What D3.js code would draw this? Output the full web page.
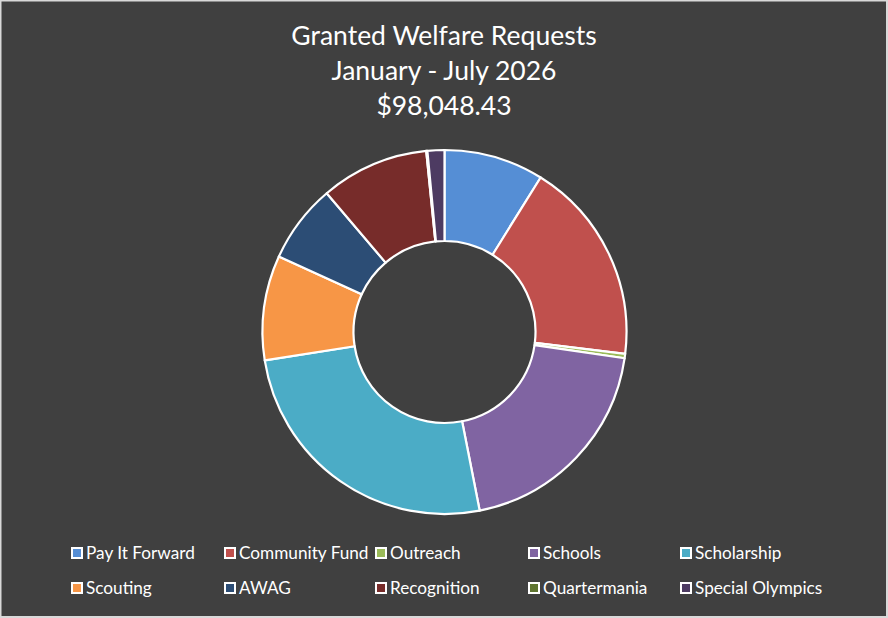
<!DOCTYPE html>
<html>
<head>
<meta charset="utf-8">
<script src="https://cdn.jsdelivr.net/npm/d3@7"></script>
<style>
  html, body { margin: 0; padding: 0; background: #404040; }
  svg { display: block; }
</style>
</head>
<body>
<svg id="chart" width="888" height="618"></svg>
<script>
const categories = ['Pay It Forward', 'Community Fund', 'Outreach', 'Schools', 'Scholarship',
  'Scouting', 'AWAG', 'Recognition', 'Quartermania', 'Special Olympics'];
const amounts = [8687, 17708, 380, 19217, 25100, 9118, 6863, 9413, 98, 1471];
const colors = ['#558ed5', '#c0504d', '#9bbb59', '#8064a2', '#4bacc6',
  '#f79646', '#2c4d75', '#772c2a', '#5f7530', '#4d3b62'];
const titleLines = ['Granted Welfare Requests', 'January - July 2026', '$98,048.43'];

const width = 888;
const height = 618;
const svg = d3.select('#chart');

// chart area frame
svg.append('rect')
  .attr('x', 0.5).attr('y', 0.5)
  .attr('width', width - 1.5).attr('height', height - 1.5)
  .attr('fill', '#404040')
  .attr('stroke', '#d9d9d9')
  .attr('stroke-width', 2);

// title
svg.append('g')
  .selectAll('text')
  .data(titleLines)
  .enter()
  .append('text')
  .attr('x', 444)
  .attr('y', (d, i) => 45 + i * 35)
  .attr('text-anchor', 'middle')
  .attr('fill', '#ffffff')
  .attr('font-family', 'Lato, "Open Sans", sans-serif')
  .attr('font-size', 26.5)
  .text((d) => d);

// donut
const data = categories.map((name, i) => ({ name, value: amounts[i], color: colors[i] }));
const pie = d3.pie().value((d) => d.value).sort(null);
const arc = d3.arc().innerRadius(91).outerRadius(182);

svg.append('g')
  .attr('transform', 'translate(444.5,332)')
  .selectAll('path')
  .data(pie(data))
  .enter()
  .append('path')
  .attr('d', arc)
  .attr('fill', (d) => d.data.color)
  .attr('stroke', '#ffffff')
  .attr('stroke-width', 2.2)
  .attr('stroke-linejoin', 'round');

// legend, 5 columns x 2 rows
const colX = d3.scaleOrdinal().domain([0, 1, 2, 3, 4]).range([71, 224, 375, 528, 680]);
const rowY = d3.scaleOrdinal().domain([0, 1]).range([553, 588]);

const legend = svg.append('g')
  .selectAll('g')
  .data(data)
  .enter()
  .append('g')
  .attr('transform', (d, i) => `translate(${colX(i % 5)},${rowY(Math.floor(i / 5))})`);

legend.append('rect')
  .attr('x', 1).attr('y', -5)
  .attr('width', 10).attr('height', 10)
  .attr('fill', (d) => d.color)
  .attr('stroke', '#ffffff')
  .attr('stroke-width', 2);

legend.append('text')
  .attr('x', 15)
  .attr('y', 6)
  .attr('fill', '#ffffff')
  .attr('font-family', 'Lato, "Open Sans", sans-serif')
  .attr('font-size', 17.2)
  .text((d) => d.name);
</script>
</body>
</html>
